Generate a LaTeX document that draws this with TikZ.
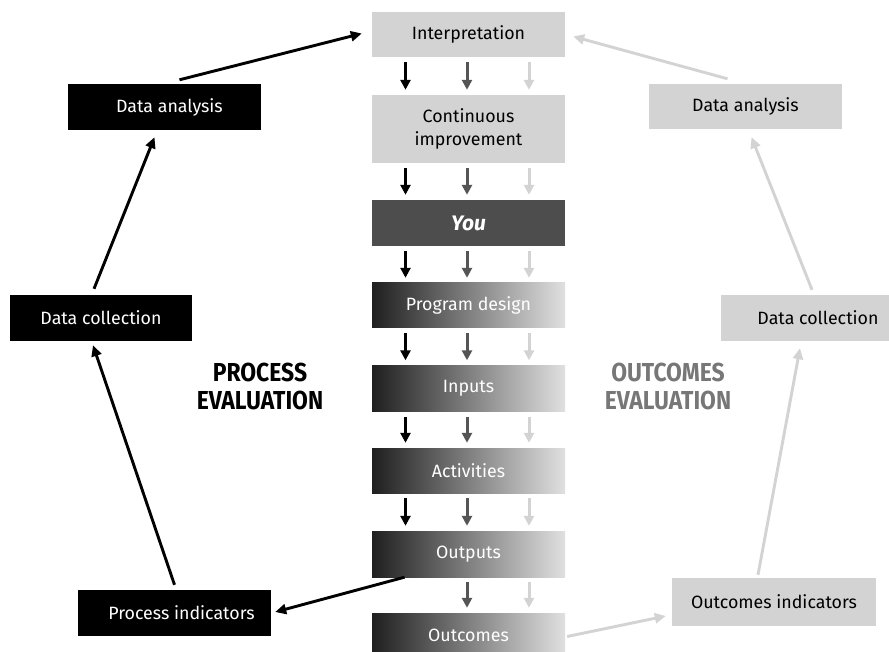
\documentclass[tikz,border=0pt]{standalone}
\usepackage{fontspec}
\setmainfont{Fira Sans}
\newfontfamily\headfont{Fira Sans}[FakeStretch=0.88]
\usetikzlibrary{arrows.meta}
\definecolor{lgray}{HTML}{D3D3D3}
\definecolor{dgray}{HTML}{555555}
\definecolor{yougray}{HTML}{4D4D4D}
\definecolor{headgray}{HTML}{777777}
\tikzset{
  box/.style={inner sep=0pt, minimum height=45pt, font=\fontsize{17.8}{23}\selectfont, align=center},
  graybox/.style={box, fill=lgray, text=black},
  blackbox/.style={box, fill=black, text=white},
  gradbox/.style={box, minimum width=193pt, left color=black!88, right color=black!12, text=white},
  carrow/.style={line width=3pt, -{Triangle[width=10pt,length=10pt]}, shorten <=5pt, shorten >=5pt},
  bigarrow/.style={line width=2.9pt, -{Triangle[width=10pt,length=11pt]}},
  heading/.style={font=\headfont\bfseries\fontsize{26}{28}\selectfont, align=center}
}
\begin{document}
\begin{tikzpicture}[x=1pt,y=-1pt]
\useasboundingbox (0,0) rectangle (889,652);
\clip (0,0) rectangle (889,652);
% central column
\node[graybox, minimum width=193pt] (interp) at (468.5,34.5) {Interpretation};
\node[graybox, minimum width=193pt, minimum height=68pt] (cont) at (468.5,129) {Continuous\\improvement};
\node[box, minimum width=193pt, fill=yougray, text=white, minimum height=46pt, font=\fontsize{21}{24}\selectfont\bfseries\itshape] (you) at (468.5,223) {You};
\node[gradbox] (pd) at (468.5,305.5) {Program design};
\node[gradbox, minimum height=46pt] (inp) at (468.5,388.5) {Inputs};
\node[gradbox] (act) at (468.5,470.5) {Activities};
\node[gradbox, minimum height=46pt] (outp) at (468.5,554) {Outputs};
\node[gradbox] (outc) at (468.5,635.5) {Outcomes};
% column arrows
\foreach \a/\b in {interp/cont, cont/you, you/pd, pd/inp, inp/act, act/outp}{
  \draw[carrow, black] ([xshift=-63pt]\a.south) -- ([xshift=-63pt]\b.north);
}
\foreach \a/\b in {interp/cont, cont/you, you/pd, pd/inp, inp/act, act/outp, outp/outc}{
  \draw[carrow, dgray] ([xshift=-1.5pt]\a.south) -- ([xshift=-1.5pt]\b.north);
  \draw[carrow, lgray] ([xshift=60.5pt]\a.south) -- ([xshift=60.5pt]\b.north);
}
% left side
\node[blackbox, minimum width=193pt, minimum height=46pt] (lda) at (164.5,107) {\hspace*{10pt}Data analysis};
\node[blackbox, minimum width=182pt, minimum height=46pt] (ldc) at (101,318) {Data collection};
\node[blackbox, minimum width=193pt, minimum height=46pt] (pind) at (174.5,613) {\hspace*{14pt}Process indicators};
% right side
\node[graybox, minimum width=193pt] (rda) at (745.5,106.5) {Data analysis};
\node[graybox, minimum width=188pt, minimum height=46pt] (rdc) at (815,318) {\hspace*{6pt}Data collection};
\node[graybox, minimum width=204pt, minimum height=48pt] (oind) at (774,602) {Outcomes indicators};
% headings
\node[heading, text=black] (ph) at (260,386) {PROCESS\\EVALUATION};
\node[heading, text=headgray] (oh) at (668,386) {OUTCOMES\\EVALUATION};
% black connectors
\draw[bigarrow, black] ([xshift=-64pt]outp.south) -- ([xshift=4pt,yshift=1pt]pind.east);
\draw[bigarrow, black] ([xshift=0pt,yshift=5pt]pind.north) -- ([xshift=-8pt,yshift=-4pt]ldc.south);
\draw[bigarrow, black] ([xshift=-7pt,yshift=6pt]ldc.north) -- ([xshift=-10pt,yshift=-7pt]lda.south);
\draw[bigarrow, black] ([xshift=15pt,yshift=4pt]lda.north) -- ([xshift=-10pt,yshift=1pt]interp.west);
% gray connectors
\draw[bigarrow, lgray] ([xshift=2pt,yshift=-1pt]outc.east) -- ([xshift=-6pt,yshift=-14pt]oind.west);
\draw[bigarrow, lgray] ([xshift=-16pt,yshift=3pt]oind.north) -- ([xshift=-15pt,yshift=-7pt]rdc.south);
\draw[bigarrow, lgray] ([xshift=-3pt,yshift=5pt]rdc.north) -- ([xshift=6pt,yshift=-8pt]rda.south);
\draw[bigarrow, lgray] ([xshift=-18pt,yshift=5pt]rda.north) -- ([xshift=8pt,yshift=-2pt]interp.east);
\end{tikzpicture}
\end{document}
